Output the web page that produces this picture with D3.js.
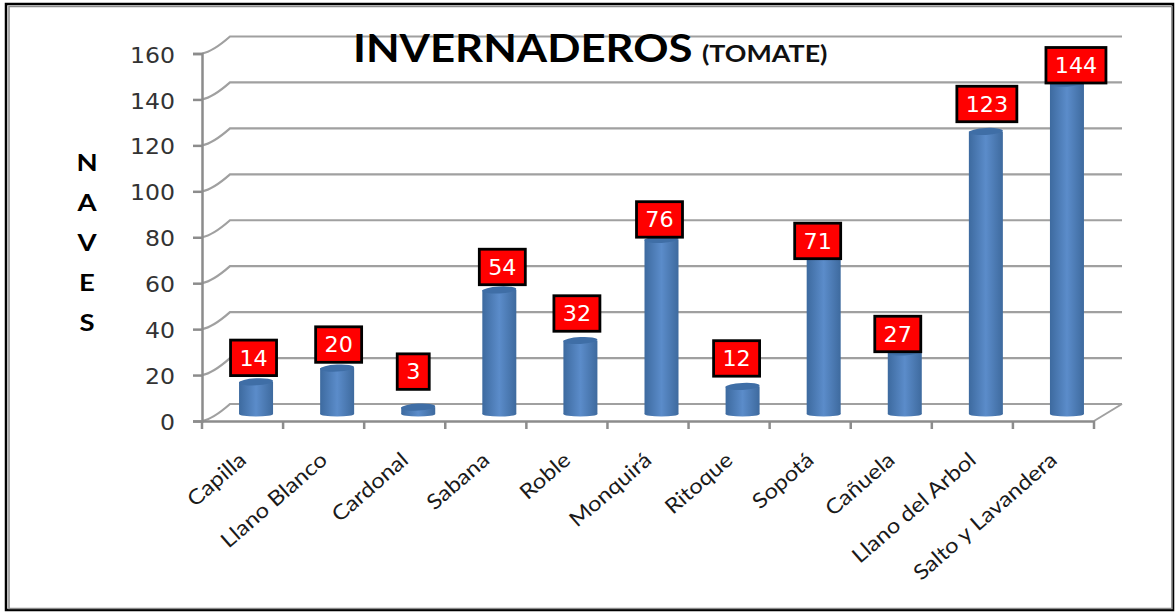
<!DOCTYPE html>
<html>
<head>
<meta charset="utf-8">
<script src="https://cdn.jsdelivr.net/npm/d3@7"></script>
<style>
  html, body { margin: 0; padding: 0; background: #fff; }
  svg { display: block; }
</style>
</head>
<body>
<div id="my_dataviz"></div>
<script>
// chart values
const places = ["Capilla", "Llano Blanco", "Cardonal", "Sabana", "Roble", "Monquirá", "Ritoque", "Sopotá", "Cañuela", "Llano del Arbol", "Salto y Lavandera"];
const naves = [14, 20, 3, 54, 32, 76, 12, 71, 27, 123, 144];
const yTicks = [0, 20, 40, 60, 80, 100, 120, 140, 160];
const yLetters = ["N", "A", "V", "E", "S"];

// hand placed labels in the original, offset from the top of each bar
const labelLift = [24, 23.5, 35.5, 23, 27, 20, 28, 10, 18, 27.5, 18];
const labelShift = [-2.5, 1.5, -5, 3, -3.5, -2, -6, -6, -7, 1, 9];

const width = 1176, height = 612;
const plot = { left: 202, right: 1094, top: 53.5, bottom: 421 };
const depth = { x: 28, y: -17 };
const barWidth = 34;

const svg = d3.select("#my_dataviz")
    .append("svg")
    .attr("width", width)
    .attr("height", height);

// frame round the picture
svg.append("rect").attr("x", 6).attr("y", 4).attr("width", 1167).attr("height", 606)
    .attr("fill", "none").attr("stroke", "#000").attr("stroke-width", 2.5);
svg.append("rect").attr("x", 9).attr("y", 6.5).attr("width", 1163).attr("height", 602)
    .attr("fill", "none").attr("stroke", "#8c8c8c").attr("stroke-width", 1.5);

const xScale = d3.scaleBand().domain(places).range([plot.left, plot.right]);
const yScale = d3.scaleLinear().domain([0, 160]).range([plot.bottom, plot.top]);

// back wall lines and the side going to them
const grid = svg.append("g").attr("stroke", "#a0a0a0").attr("stroke-width", 2.2).attr("fill", "none");
grid.selectAll("path")
    .data(yTicks)
    .enter()
    .append("path")
    .attr("d", d => `M${plot.left},${yScale(d)}Q${plot.left + 11},${yScale(d) - 2} ${plot.left + depth.x},${yScale(d) + depth.y}H${plot.right + depth.x}`);
grid.append("line")
    .attr("x1", plot.right).attr("y1", plot.bottom)
    .attr("x2", plot.right + depth.x).attr("y2", plot.bottom + depth.y)
    .attr("stroke-width", 2);

// y axis
const yAxis = svg.append("g")
    .attr("transform", `translate(${plot.left},0)`)
    .call(d3.axisLeft(yScale).tickValues(yTicks).tickSize(9).tickPadding(0));
yAxis.selectAll("path, line").attr("stroke", "#8c8c8c").attr("stroke-width", 2.5);
yAxis.selectAll("text")
    .attr("font-family", "'DejaVu Sans'")
    .attr("font-size", 20.5)
    .attr("fill", "#333")
    .attr("x", 0)
    .attr("dy", "0.42em")
    .attr("transform", "translate(-27,0) scale(1.15,1)");

// x axis, ticks sit between the bands
const xAxis = svg.append("g")
    .attr("transform", `translate(0,${plot.bottom})`)
    .call(d3.axisBottom(xScale).tickSize(0).tickPadding(0));
xAxis.select("path").attr("stroke", "#8c8c8c").attr("stroke-width", 2.5);
xAxis.selectAll("line").remove();
xAxis.selectAll("text")
    .attr("font-family", "Lato")
    .attr("font-size", 21)
    .attr("fill", "#1a1a1a")
    .attr("text-anchor", "end")
    .attr("y", 0).attr("dy", 0)
    .attr("transform", "translate(5,41) rotate(-41) scale(1.13,1)");

svg.append("g")
    .attr("stroke", "#8c8c8c").attr("stroke-width", 2.5)
    .selectAll("line")
    .data(d3.range(places.length + 1))
    .enter()
    .append("line")
    .attr("x1", d => plot.left + d * xScale.step())
    .attr("x2", d => plot.left + d * xScale.step())
    .attr("y1", plot.bottom)
    .attr("y2", plot.bottom + 8);

// cylinder shading
const defs = svg.append("defs");
const side = defs.append("linearGradient").attr("id", "cyl").attr("x1", 0).attr("x2", 1).attr("y1", 0).attr("y2", 0);
side.append("stop").attr("offset", "0%").attr("stop-color", "#3d6a9f");
side.append("stop").attr("offset", "50%").attr("stop-color", "#5b8cca");
side.append("stop").attr("offset", "100%").attr("stop-color", "#3e6a9e");

const baseDrop = 7; // bars stand a little behind the front edge
const barX = d => xScale(d) + xScale.bandwidth() / 2 + 13.5;
const barTop = v => yScale(v) - baseDrop;

const bars = svg.append("g").selectAll("g")
    .data(places.map((p, i) => ({ place: p, value: naves[i], i: i })))
    .enter()
    .append("g");

bars.append("ellipse")
    .attr("cx", d => barX(d.place))
    .attr("cy", plot.bottom - baseDrop)
    .attr("rx", barWidth / 2)
    .attr("ry", 2.5)
    .attr("fill", "url(#cyl)");
bars.append("rect")
    .attr("x", d => barX(d.place) - barWidth / 2)
    .attr("y", d => barTop(d.value))
    .attr("width", barWidth)
    .attr("height", d => yScale(0) - yScale(d.value))
    .attr("fill", "url(#cyl)");
bars.append("ellipse")
    .attr("cx", d => barX(d.place))
    .attr("cy", d => barTop(d.value))
    .attr("rx", barWidth / 2)
    .attr("ry", 3.5)
    .attr("fill", "#3f6ea6")
    .attr("transform", d => `rotate(-3,${barX(d.place)},${barTop(d.value)})`);

// red value labels
const boxH = 35.5;
const boxW = d => 18 + String(d.value).length * 14;
const labels = svg.append("g").selectAll("g")
    .data(bars.data())
    .enter()
    .append("g")
    .attr("transform", d => `translate(${barX(d.place) + labelShift[d.i]},${barTop(d.value) - labelLift[d.i]})`);
labels.append("rect")
    .attr("x", d => -boxW(d) / 2)
    .attr("y", -boxH / 2)
    .attr("width", boxW)
    .attr("height", boxH)
    .attr("fill", "#ff0000")
    .attr("stroke", "#000")
    .attr("stroke-width", 2.8);
labels.append("text")
    .attr("text-anchor", "middle")
    .attr("dy", "0.37em")
    .attr("font-family", "'DejaVu Sans'")
    .attr("font-size", 21)
    .attr("fill", "#fff")
    .attr("transform", "scale(1.06,1)")
    .text(d => d.value);

// title
svg.append("text")
    .attr("transform", "translate(353,62) scale(1.15,1)")
    .attr("font-family", "Lato").attr("font-weight", 700).attr("font-size", 38)
    .attr("fill", "#000")
    .text("INVERNADEROS");
svg.append("text")
    .attr("transform", "translate(702,62) scale(1.22,1)")
    .attr("font-family", "Lato").attr("font-weight", 700).attr("font-size", 22)
    .attr("fill", "#111")
    .text("(TOMATE)");

// y axis title, one letter per line
svg.append("g").selectAll("text")
    .data(yLetters)
    .enter()
    .append("text")
    .attr("transform", (d, i) => `translate(87,${171 + i * 40}) scale(1.25,1)`)
    .attr("text-anchor", "middle")
    .attr("font-family", "Lato").attr("font-weight", 700).attr("font-size", 22)
    .attr("fill", "#000")
    .text(d => d);
</script>
</body>
</html>
